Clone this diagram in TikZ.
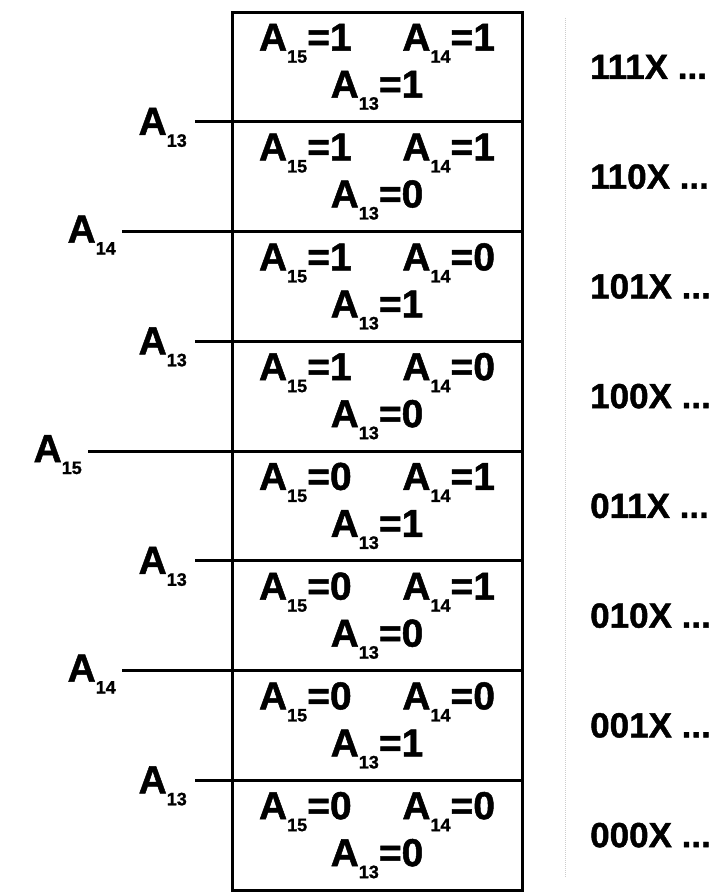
\documentclass[tikz,border=0pt]{standalone}
\usepackage{fontspec}
\setmainfont{Liberation Sans}[BoldFeatures={FakeBold=1.2}]
\usetikzlibrary{positioning}

% address pin with a dropped index
\newcommand{\addrpin}[1]{A\raisebox{-12pt}{\fontsize{18}{18}\selectfont #1}}

\begin{document}
\begin{tikzpicture}[x=1pt,y=1pt,node distance=0pt,
	row node/.style={draw,line width=3pt,outer sep=0pt,inner sep=0pt,
		minimum width=290pt,minimum height=109.75pt,align=center,
		font=\fontsize{39}{47}\selectfont\bfseries},
	pin label/.style={inner sep=0pt,anchor=base east,font=\fontsize{39}{47}\selectfont\bfseries},
	code label/.style={inner sep=0pt,font=\fontsize{35}{42}\selectfont\bfseries},
	sel line/.style={line width=3pt}]

	\useasboundingbox (0,0) rectangle (721,892);

	% the eight blocks, top to bottom
	\node[row node] (r1) at (377,825.1) {\addrpin{15}=1\hspace{1.3em}\addrpin{14}=1\\\addrpin{13}=1};
	\node[row node] (r2) [below=of r1] {\addrpin{15}=1\hspace{1.3em}\addrpin{14}=1\\\addrpin{13}=0};
	\node[row node] (r3) [below=of r2] {\addrpin{15}=1\hspace{1.3em}\addrpin{14}=0\\\addrpin{13}=1};
	\node[row node] (r4) [below=of r3] {\addrpin{15}=1\hspace{1.3em}\addrpin{14}=0\\\addrpin{13}=0};
	\node[row node] (r5) [below=of r4] {\addrpin{15}=0\hspace{1.3em}\addrpin{14}=1\\\addrpin{13}=1};
	\node[row node] (r6) [below=of r5] {\addrpin{15}=0\hspace{1.3em}\addrpin{14}=1\\\addrpin{13}=0};
	\node[row node] (r7) [below=of r6] {\addrpin{15}=0\hspace{1.3em}\addrpin{14}=0\\\addrpin{13}=1};
	\node[row node] (r8) [below=of r7] {\addrpin{15}=0\hspace{1.3em}\addrpin{14}=0\\\addrpin{13}=0};

	% select lines on the left
	\coordinate (c1) at (195,0 |- r1.south);
	\coordinate (c2) at (122,0 |- r2.south);
	\coordinate (c3) at (195,0 |- r3.south);
	\coordinate (c4) at (88,0 |- r4.south);
	\coordinate (c5) at (195,0 |- r5.south);
	\coordinate (c6) at (122,0 |- r6.south);
	\coordinate (c7) at (195,0 |- r7.south);

	\node[pin label] (s1) at ([xshift=-8pt,yshift=-13pt]c1) {\addrpin{13}};
	\node[pin label] (s2) at ([xshift=-6pt,yshift=-11pt]c2) {\addrpin{14}};
	\node[pin label] (s3) at ([xshift=-8pt,yshift=-13pt]c3) {\addrpin{13}};
	\node[pin label] (s4) at ([xshift=-6pt,yshift=-11pt]c4) {\addrpin{15}};
	\node[pin label] (s5) at ([xshift=-8pt,yshift=-13pt]c5) {\addrpin{13}};
	\node[pin label] (s6) at ([xshift=-6pt,yshift=-11pt]c6) {\addrpin{14}};
	\node[pin label] (s7) at ([xshift=-8pt,yshift=-13pt]c7) {\addrpin{13}};

	\draw[sel line] (c1) -- (r1.south west);
	\draw[sel line] (c2) -- (r2.south west);
	\draw[sel line] (c3) -- (r3.south west);
	\draw[sel line] (c4) -- (r4.south west);
	\draw[sel line] (c5) -- (r5.south west);
	\draw[sel line] (c6) -- (r6.south west);
	\draw[sel line] (c7) -- (r7.south west);

	% faint guide and the codes on the right
	\coordinate (gt) at (565,874);
	\coordinate (gb) at (565,14);
	\draw[gray!40,densely dotted,line width=1pt] (gt) -- (gb);

	\node[code label] (k1) [right=68pt of r1] {111X ...};
	\node[code label] (k2) [right=68pt of r2] {110X ...};
	\node[code label] (k3) [right=68pt of r3] {101X ...};
	\node[code label] (k4) [right=68pt of r4] {100X ...};
	\node[code label] (k5) [right=68pt of r5] {011X ...};
	\node[code label] (k6) [right=68pt of r6] {010X ...};
	\node[code label] (k7) [right=68pt of r7] {001X ...};
	\node[code label] (k8) [right=68pt of r8] {000X ...};
\end{tikzpicture}
\end{document}
